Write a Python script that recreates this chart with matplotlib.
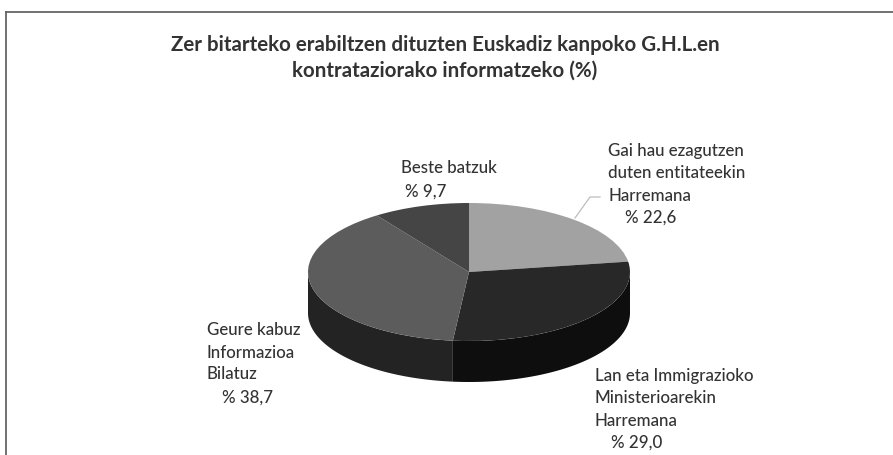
import matplotlib
matplotlib.use('Agg')
import matplotlib.pyplot as plt
import numpy as np
from matplotlib.lines import Line2D

plt.rcParams['font.family'] = ['Lato', 'DejaVu Sans']

values = [22.6, 29.0, 38.7, 9.7]
value_labels = ['% 22,6', '% 29,0', '% 38,7', '% 9,7']
names = ['Gai hau ezagutzen\nduten entitateekin\nHarremana',
         'Lan eta Immigrazioko\nMinisterioarekin\nHarremana',
         'Geure kabuz\nInformazioa\nBilatuz',
         'Beste batzuk']
title = ['Zer bitarteko erabiltzen dituzten Euskadiz kanpoko G.H.L.en',
         'kontrataziorako informatzeko (%)']

top_colors = ['#a2a2a2', '#282828', '#5c5c5c', '#454545']
side_colors = ['#1c1c1c', '#0e0e0e', '#232323', '#232323']

W, H = 893, 455
cx, cy, rx, ry, depth = 469, 272, 161, 69, 41

fig = plt.figure(figsize=(W / 100, H / 100), dpi=100)
ax = fig.add_axes([0, 0, 1, 1])

# la tarta plana, se aplasta con los limites del eje
ax.pie(values, colors=top_colors, startangle=90, counterclock=False, radius=1,
       wedgeprops=dict(linewidth=0, zorder=3))
ax.set_aspect('auto')
ax.set_xlim(-cx / rx, (W - cx) / rx)
ax.set_ylim((cy - H) / ry, cy / ry)
ax.axis('off')

# pared lateral: solo la parte de delante (90 a 270 grados desde arriba)
d = depth / ry
edges = np.cumsum([0] + values) / sum(values) * 360
for i in range(len(values)):
    a0, a1 = max(edges[i], 90), min(edges[i + 1], 270)
    if a1 <= a0:
        continue
    t = np.radians(np.linspace(a0, a1, 80))
    xs = np.sin(t)
    ys = np.cos(t)
    ax.fill(np.r_[xs, xs[::-1]], np.r_[ys, ys[::-1] - d], color=side_colors[i], lw=0, zorder=2)


def label(x, y, s, **kw):
    fig.text(x / W, 1 - y / H, s, va='center', **kw)


def multiline(x, ys, s):
    for yy, line in zip(ys, s.split('\n')):
        label(x, yy, line, fontsize=12.2, fontweight='medium', color='#333333')


label(445, 45, title[0], fontsize=14.8, fontweight='bold', color='#333333', ha='center')
label(445, 71, title[1], fontsize=14.8, fontweight='bold', color='#333333', ha='center')

multiline(608, [151, 173, 196], names[0])
multiline(595, [376, 398, 421], names[1])
multiline(207, [330, 353, 374], names[2])
multiline(401, [168], names[3])
multiline(625, [218], value_labels[0])
multiline(611, [443], value_labels[1])
multiline(222, [398], value_labels[2])
multiline(405, [192], value_labels[3])

# linea guia de la primera etiqueta
fig.add_artist(Line2D(np.array([575, 590, 600]) / W, 1 - np.array([218, 197, 197]) / H,
                      color='#bdbdbd', lw=0.9))
# marco: solo arriba e izquierda
fig.add_artist(Line2D([6 / W, 6 / W], [0, 1 - 11.5 / H], color='#666666', lw=1.3))
fig.add_artist(Line2D([6 / W, 1], [1 - 11.5 / H, 1 - 11.5 / H], color='#666666', lw=1.3))

fig.savefig('out.png', dpi=100)
